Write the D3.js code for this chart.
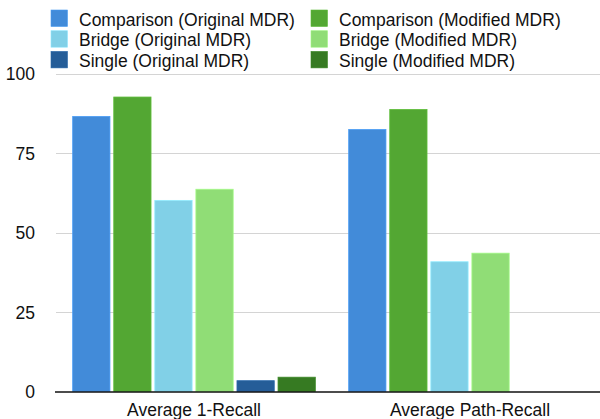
<!DOCTYPE html>
<html>
<head>
<meta charset="utf-8">
<script src="https://cdn.jsdelivr.net/npm/d3@7"></script>
<style>
  html, body { margin: 0; padding: 0; background: #fff; }
  svg { display: block; font-family: "Liberation Sans", Arial, Helvetica, sans-serif; }
</style>
</head>
<body>
<svg id="chart" width="600" height="419"></svg>
<script>
// Metric groups along the x axis
const categories = ["Average 1-Recall", "Average Path-Recall"];

// Series, in drawing order within each group
const seriesNames = [
  "Comparison (Original MDR)",
  "Comparison (Modified MDR)",
  "Bridge (Original MDR)",
  "Bridge (Modified MDR)",
  "Single (Original MDR)",
  "Single (Modified MDR)"
];

// Values per series: [Average 1-Recall, Average Path-Recall]
const comparisonOriginal = [86.5, 82.4];
const comparisonModified = [92.6, 88.7];
const bridgeOriginal = [60.1, 40.8];
const bridgeModified = [63.6, 43.5];
const singleOriginal = [3.4, 0];
const singleModified = [4.5, 0];

const seriesColors = ["#428bd9", "#53a733", "#81d0e7", "#90dd76", "#255d98", "#367a22"];

const yTicks = [0, 25, 50, 75, 100];

const seriesValues = [
  comparisonOriginal, comparisonModified,
  bridgeOriginal, bridgeModified,
  singleOriginal, singleModified
];

const FONT = 17.5;
const svg = d3.select("#chart");

const x0 = d3.scaleBand().domain(categories).range([56, 608]).padding(0);
const x1 = d3.scaleBand().domain(seriesNames).range([0, x0.bandwidth()])
  .paddingInner(0.0925).paddingOuter(0.406);
const y = d3.scaleLinear().domain([0, 100]).range([391.5, 73.5]);
const color = d3.scaleOrdinal().domain(seriesNames).range(seriesColors);

// Horizontal gridlines
svg.append("g")
  .selectAll("line")
  .data(yTicks.filter(t => t > 0))
  .join("line")
  .attr("x1", 56).attr("x2", 600)
  .attr("y1", d => Math.round(y(d)) + 0.5)
  .attr("y2", d => Math.round(y(d)) + 0.5)
  .attr("stroke", "#d4d4d4")
  .attr("stroke-width", 1);

// Y axis tick labels
const yAxis = d3.axisLeft(y).tickValues(yTicks).tickSize(0).tickPadding(0);
const yG = svg.append("g").attr("transform", "translate(35,0)").call(yAxis);
yG.select(".domain").remove();
yG.selectAll("text")
  .attr("font-size", FONT)
  .attr("fill", "#111")
  .attr("font-family", "'Liberation Sans', Arial, sans-serif")
  .attr("dy", "0.36em");

// Bars
const rows = [];
categories.forEach((c, ci) => {
  seriesNames.forEach((s, si) => {
    rows.push({ category: c, series: s, value: seriesValues[si][ci] });
  });
});

svg.append("g")
  .selectAll("rect")
  .data(rows.filter(d => d.value > 0))
  .join("rect")
  .attr("x", d => x0(d.category) + x1(d.series))
  .attr("y", d => y(d.value))
  .attr("width", x1.bandwidth())
  .attr("height", d => y(0) - y(d.value))
  .attr("fill", d => color(d.series))
  .attr("stroke", d => d3.color(color(d.series)).brighter(0.35))
  .attr("stroke-width", 0.8);

// Baseline
svg.append("line")
  .attr("x1", 55).attr("x2", 600)
  .attr("y1", y(0) + 0.5).attr("y2", y(0) + 0.5)
  .attr("stroke", "#111")
  .attr("stroke-width", 1.3);

// Category labels
const xAxis = d3.axisBottom(x0).tickSize(0).tickPadding(0);
const xG = svg.append("g").attr("transform", "translate(0,403)").call(xAxis);
xG.select(".domain").remove();
xG.selectAll("text")
  .attr("font-size", FONT)
  .attr("fill", "#111")
  .attr("font-family", "'Liberation Sans', Arial, sans-serif")
  .attr("dy", "0.74em");

// Legend: two columns, original MDR on the left, modified MDR on the right
const legendCols = [51, 311];
const legend = svg.append("g")
  .selectAll("g")
  .data(seriesNames)
  .join("g")
  .attr("transform", (d, i) => `translate(${legendCols[i % 2]},${10 + Math.floor(i / 2) * 20.7})`);

legend.append("rect")
  .attr("width", 16.5).attr("height", 16.5)
  .attr("fill", d => color(d))
  .attr("stroke", d => d3.color(color(d)).brighter(0.3))
  .attr("stroke-width", 0.6);

legend.append("text")
  .attr("x", 28)
  .attr("y", 15.6)
  .attr("font-size", FONT)
  .attr("fill", "#111")
  .text(d => d);
</script>
</body>
</html>
